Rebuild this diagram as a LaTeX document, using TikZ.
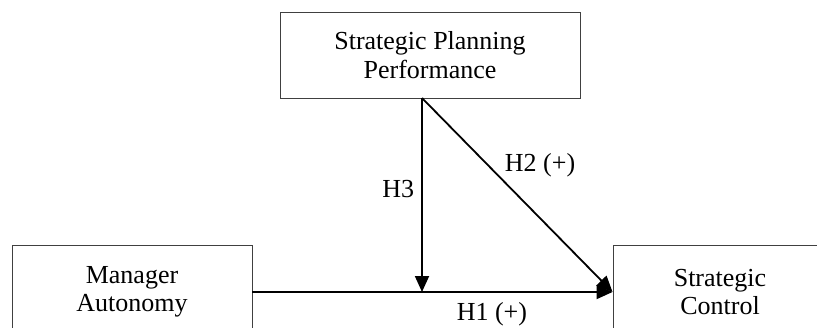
\documentclass[tikz,border=0pt]{standalone}
\usepackage{fontspec}
\setmainfont{Liberation Serif}
\usetikzlibrary{arrows.meta}

\begin{document}
\begin{tikzpicture}[
    x=1pt, y=-1pt,
    var/.style={draw=black!75, line width=0.9pt, minimum height=94pt, align=center, font=\fontsize{26}{28.5}\selectfont, inner sep=0pt},
    arr/.style={-{Triangle[length=16pt, width=14pt]}, line width=1.8pt},
    lbl/.style={font=\fontsize{26}{28.5}\selectfont, inner sep=2pt}
]
\clip (0,0) rectangle (817,327);

\node[var, minimum width=300pt, minimum height=86pt] (P) at (430,55) {Strategic Planning\\Performance};
\node[var, minimum width=240pt] (A) at (132,292) {Manager\\Autonomy};
\node[var, minimum width=214pt] (C) at (720,292) {Strategic\\Control};
\coordinate (J) at (422,98);

\draw[arr] (A.east) -- node[lbl, below=8pt, pos=.665] {H1 (+)} (C.west);
\draw[arr] (J) -- node[lbl, pos=.42, anchor=south west] {H2 (+)} (C.west);
\draw[arr] (J) -- node[lbl, left=5pt, pos=.47] {H3} (J |- A.east);
\end{tikzpicture}
\end{document}
